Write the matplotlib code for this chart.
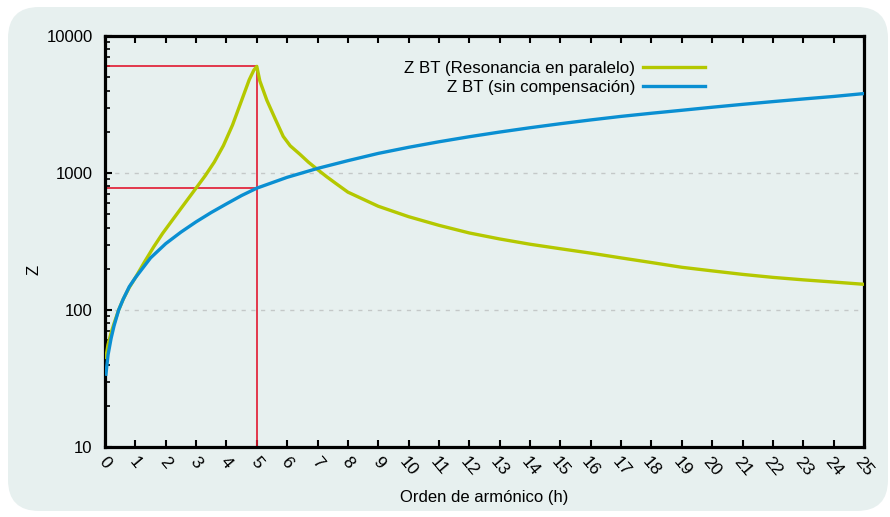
import numpy as np
import matplotlib
matplotlib.use('Agg')
import matplotlib.pyplot as plt
from matplotlib.patches import FancyBboxPatch
from matplotlib.ticker import LogLocator, NullFormatter, FixedLocator

plt.rcParams['font.family'] = ['Liberation Sans', 'DejaVu Sans']

# Z BT (sin compensación)
h_blue = [0.03, 0.1, 0.2, 0.3, 0.45, 0.6, 0.8, 1.0, 1.5, 2.0, 2.5, 3.0, 3.5, 4.0, 4.5,
          5, 6, 7, 8, 9, 10, 11, 12, 13, 14, 15, 16, 17, 18, 19, 20, 21, 22, 23, 24, 25]
z_blue = [34, 47, 62, 77, 100, 120, 148, 172, 240, 305, 370, 440, 515, 595, 685,
          775, 930, 1080, 1230, 1390, 1540, 1690, 1840, 1990, 2140, 2290, 2440, 2590,
          2730, 2870, 3020, 3170, 3320, 3470, 3620, 3800]

# Z BT (Resonancia en paralelo)
h_green = [0.03, 0.1, 0.2, 0.3, 0.45, 0.6, 0.8, 1.0, 1.3, 1.6, 1.9, 2.2, 2.5, 2.8, 3.0,
           3.3, 3.6, 3.9, 4.2, 4.5, 4.75, 4.9, 5.0,
           5.1, 5.33, 5.6, 5.87, 6.1, 6.42, 6.7, 7.0, 7.3, 7.6,
           8, 9, 10, 11, 12, 13, 14, 15, 16, 17, 18, 19, 20, 21, 22, 23, 24, 25]
z_green = [45, 56, 68, 80, 100, 120, 146, 172, 224, 288, 363, 447, 550, 676, 776,
           955, 1202, 1585, 2239, 3388, 4790, 5620, 6000,
           4700, 3400, 2500, 1850, 1580, 1370, 1200, 1060, 940, 840,
           725, 572, 480, 415, 365, 330, 302, 280, 260, 240, 222, 205, 193, 182,
           173, 166, 160, 154]

h_res = 5
z_peak = 6000
z_base = 780

labels = ['Z BT (Resonancia en paralelo)', 'Z BT (sin compensación)']
xticks = list(range(0, 26))

bg = '#e7f0ef'
green = '#b4c800'
blue = '#0a8fd2'
red = '#e2192f'

fig = plt.figure(figsize=(8.9, 5.17), dpi=100)
fig.patch.set_facecolor('white')
panel = FancyBboxPatch((8 / 890, 6 / 517), 880 / 890, 504 / 517,
                       boxstyle='round,pad=0,rounding_size=0.035',
                       transform=fig.transFigure, facecolor=bg, edgecolor='none',
                       mutation_aspect=890 / 517, zorder=-10)
fig.add_artist(panel)

ax = fig.add_axes([105 / 890, 1 - 447 / 517, 759 / 890, 411 / 517])
ax.set_facecolor(bg)

ax.set_yscale('log')
ax.set_xlim(0, 25)
ax.set_ylim(10, 10000)

for yv in [100, 1000]:
    ax.axhline(yv, color='#c4c8c8', lw=1.0, ls=(0, (3, 4)), zorder=1)

# red guide lines at the resonance
ax.plot([0, h_res], [z_peak, z_peak], color=red, lw=1.2, zorder=2)
ax.plot([0, h_res], [z_base, z_base], color=red, lw=1.2, zorder=2)
ax.plot([h_res, h_res], [10, z_peak], color=red, lw=1.2, zorder=2)

ax.plot(h_green, z_green, color=green, lw=2.4, label=labels[0], zorder=3,
        solid_joinstyle='round')
ax.plot(h_blue, z_blue, color=blue, lw=2.4, label=labels[1], zorder=4)

for s in ax.spines.values():
    s.set_linewidth(2.3)
    s.set_color('black')

ax.xaxis.set_major_locator(FixedLocator(xticks))
ax.set_xticklabels([str(t) for t in xticks], rotation=-50, ha='center', fontsize=12.5)
ax.tick_params(axis='x', which='major', direction='in', length=5, width=1.5,
               top=True, bottom=True, pad=5)
ax.tick_params(axis='x', which='minor', bottom=False, top=False)

ax.yaxis.set_minor_locator(LogLocator(base=10, subs=np.arange(2, 10), numticks=20))
ax.yaxis.set_minor_formatter(NullFormatter())
ax.set_yticks([10, 100, 1000, 10000])
ax.set_yticklabels(['10', '100', '1000', '10000'], fontsize=12)
ax.tick_params(axis='y', which='major', direction='in', length=5, width=1.5,
               left=True, right=False, pad=9)
ax.tick_params(axis='y', which='minor', direction='in', length=3.5, width=1.2,
               left=True, right=False)

ax.set_xlabel('Orden de armónico (h)', fontsize=12, labelpad=8)
ax.set_ylabel('Z', fontsize=12)
ax.yaxis.set_label_coords(-0.084, 0.43)

ax.legend(loc='upper right', bbox_to_anchor=(0.80, 0.955), frameon=False,
          markerfirst=False, fontsize=12.2, handlelength=3.7, handletextpad=0.45,
          labelspacing=0.2, borderaxespad=0)

fig.savefig('out.png', dpi=100, facecolor='white')
